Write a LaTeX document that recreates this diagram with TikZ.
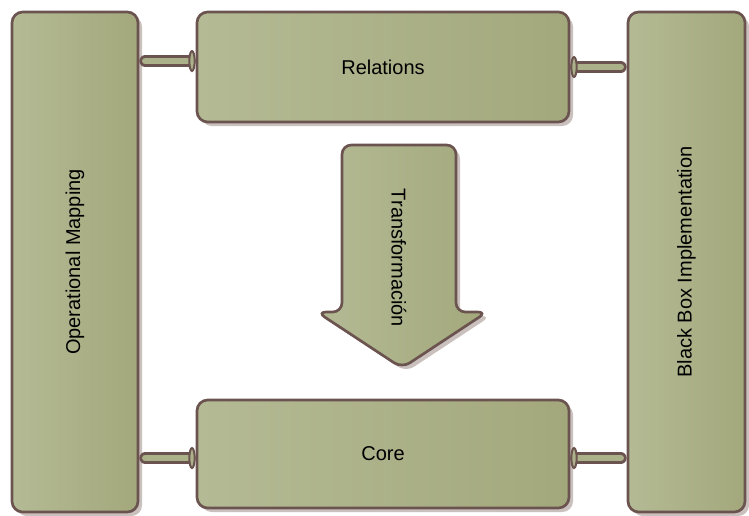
\documentclass[tikz,border=0pt]{standalone}
\usepackage{fontspec}
\setmainfont{Liberation Sans}
\usetikzlibrary{shapes.geometric,shadows}
\definecolor{boxlight}{HTML}{B4BA94}
\definecolor{boxdark}{HTML}{A3A87C}
\definecolor{boxmid}{HTML}{ABB188}
\definecolor{edge}{HTML}{6B5450}
\definecolor{shade}{HTML}{CAC1BE}
\begin{document}
\begin{tikzpicture}[x=0.75pt, y=-0.75pt,
  box/.style={
    draw=edge, line width=2pt, rounded corners=8pt,
    left color=boxlight, right color=boxdark, inner sep=0pt,
    drop shadow={shadow xshift=3pt, shadow yshift=-3pt, fill=shade, opacity=1},
    font=\fontsize{15}{18}\selectfont
  },
  bigarrow/.style={
    draw=edge, line width=2pt, rounded corners=7pt,
    left color=boxlight, right color=boxdark,
    drop shadow={shadow xshift=3pt, shadow yshift=-3pt, fill=shade, opacity=1}
  },
  conn/.style={
    draw=edge, line width=9pt, line cap=round,
    shorten <=4.5pt, shorten >=4.5pt,
    postaction={draw=boxmid, line width=5pt, line cap=round}
  },
  flare/.style={
    ellipse, draw=edge, fill=boxmid, line width=1.5pt,
    minimum width=4pt, minimum height=15pt, inner sep=0pt
  },
  lbl/.style={font=\fontsize{15}{18}\selectfont, inner sep=0pt}
]
\useasboundingbox (0,0) rectangle (749,515);
\node[box, minimum width=94.5pt, minimum height=375pt]  (opmap) at (75,262)    {\rotatebox{90}{Operational Mapping}};
\node[box, minimum width=279pt, minimum height=82.5pt]  (rel)   at (383,67)    {Relations};
\node[box, minimum width=279pt, minimum height=81pt]    (core)  at (383,454)   {Core};
\node[box, minimum width=87.75pt, minimum height=375pt] (bbox)  at (686.5,262) {\rotatebox{90}{Black Box Implementation}};
% transformation arrow
\draw[bigarrow] (342,145) -- (456,145) -- (456,312) -- (487,312) -- (402,368)
  -- (317,312) -- (342,312) -- cycle;
\node[lbl, rotate=-90] (transf) at (399,258) {Transformación};
% connectors
\draw[conn] ([yshift=4.5pt]opmap.east |- rel.west) -- ([yshift=4.5pt]rel.west)
  node[flare, anchor=east] {};
\draw[conn] (rel.east) node[flare, anchor=west] {} -- (bbox.west |- rel.east);
\draw[conn] ([yshift=-3pt]opmap.east |- core.west) -- ([yshift=-3pt]core.west)
  node[flare, anchor=east] {};
\draw[conn] ([yshift=-3pt]core.east) node[flare, anchor=west] {}
  -- ([yshift=-3pt]bbox.west |- core.east);
\end{tikzpicture}
\end{document}
